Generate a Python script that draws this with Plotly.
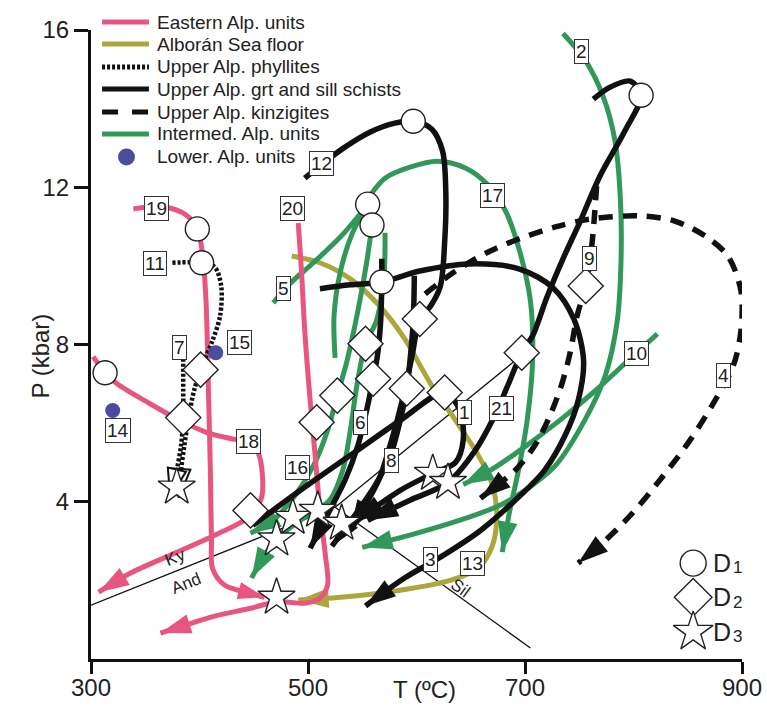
import plotly.graph_objects as go

PINK = "#E8567F"
OLIVE = "#ABA73C"
GREEN = "#32985A"
BLACK = "#111111"
NAVY = "#4B4C9C"

# ---------------- P-T paths (T in ºC, P in kbar) ----------------
# Eastern Alp. units
p19_T = [339, 368, 388, 398, 403, 406, 408, 410, 411, 412, 423, 442, 460]
p19_P = [11.45, 11.50, 11.29, 10.94, 10.25, 9.11, 7.08, 4.80, 3.02, 2.31, 1.88, 1.70, 1.57]
p20_T = [491, 494, 497, 502, 507, 511, 516, 518, 511, 497, 479, 465, 447, 414, 387, 364]
p20_P = [11.09, 9.87, 8.35, 6.57, 5.05, 3.78, 2.64, 1.88, 1.55, 1.42, 1.45, 1.42, 1.29, 1.09, 0.86, 0.66]
p18_T = [302, 313, 324, 354, 382, 407, 428, 445, 454, 458, 457, 445, 414, 373, 336, 307]
p18_P = [7.69, 7.28, 7.00, 6.50, 6.07, 5.76, 5.61, 5.51, 5.25, 4.67, 4.09, 3.60, 3.15, 2.64, 2.18, 1.70]

# Alborán Sea floor
p13_T = [485, 511, 539, 566, 589, 613, 636, 657, 670, 674, 670, 657, 631, 585, 530, 491]
p13_P = [10.25, 10.08, 9.67, 8.98, 8.15, 7.00, 6.07, 5.18, 4.42, 3.65, 2.89, 2.31, 2.00, 1.75, 1.57, 1.50]

# Upper Alp. phyllites
p11_T = [375, 402, 414, 420, 419, 412, 405, 401, 395, 390, 386, 383, 381]
p11_P = [10.08, 10.08, 9.97, 9.49, 8.73, 8.10, 7.64, 7.36, 6.83, 6.14, 5.43, 4.80, 4.11]
p7_T = [385, 385, 385, 383, 379, 373]
p7_P = [7.64, 6.83, 6.14, 5.43, 4.80, 4.11]

# Upper Alp. grt and sill schists
p12_T = [497, 513, 534, 557, 580, 597, 614, 624, 627, 626, 622, 613, 603, 596, 588, 577, 565, 550, 539]
p12_P = [12.23, 12.59, 13.02, 13.40, 13.63, 13.68, 13.48, 12.92, 11.90, 10.63, 9.49, 8.98, 8.65, 7.72, 6.70, 5.56, 4.54, 3.78, 3.27]
p8_T = [598, 597, 594, 591, 585, 576, 562, 543, 522]
p8_P = [9.75, 8.60, 7.59, 6.88, 6.07, 5.18, 4.42, 3.65, 2.87]
p6_T = [568, 568, 567, 564, 560, 554, 546, 534, 520, 502]
p6_P = [10.18, 9.59, 8.60, 7.72, 7.13, 6.32, 5.43, 4.54, 3.78, 2.82]
p3_T = [511, 539, 568, 603, 649, 695, 726, 745, 754, 749, 737, 718, 691, 659, 622, 589, 553]
p3_P = [9.42, 9.52, 9.59, 9.87, 10.05, 9.92, 9.44, 8.65, 7.59, 6.57, 5.69, 4.80, 4.04, 3.27, 2.59, 2.06, 1.35]
p1_T = [449, 493, 539, 585, 626, 640, 643, 636, 615, 585, 543]
p1_P = [3.40, 4.29, 5.18, 6.07, 6.78, 6.32, 5.56, 5.00, 4.72, 4.29, 3.48]
p21_T = [763, 778, 797, 807, 792, 769, 751, 735, 720, 707, 697, 684, 672, 654, 629, 594, 555]
p21_P = [14.24, 14.54, 14.70, 14.34, 13.43, 12.28, 11.14, 10.18, 9.19, 8.22, 7.79, 6.95, 6.19, 5.30, 4.49, 4.04, 3.53]

# Upper Alp. kinzigites
p4_T = [608, 636, 668, 695, 728, 760, 806, 838, 866, 887, 899, 899, 892, 875, 852, 824, 797, 769, 749]
p4_P = [9.29, 9.87, 10.38, 10.69, 10.99, 11.19, 11.27, 11.14, 10.76, 10.25, 9.37, 8.35, 7.46, 6.57, 5.56, 4.54, 3.65, 2.89, 2.44]
p9_T = [766, 764, 761, 756, 748, 742, 734, 723, 709, 691, 672, 659]
p9_P = [12.03, 11.27, 10.38, 9.49, 8.73, 7.84, 7.00, 6.19, 5.43, 4.80, 4.37, 4.09]

# Intermed. Alp. units
p2_T = [735, 755, 772, 783, 788, 788.5, 785, 774, 755, 728, 700, 677, 640, 594, 550]
p2_P = [15.91, 15.25, 14.31, 13.17, 11.65, 10.13, 8.60, 7.21, 6.07, 4.92, 4.29, 3.91, 3.53, 3.15, 2.84]
p10_T = [822, 797, 765, 732, 695, 668, 643]
p10_P = [8.27, 7.64, 6.83, 6.07, 5.30, 4.80, 4.44]
p17_T = [557, 571, 594, 619, 645, 665, 682, 695, 705, 707, 702, 694, 686, 679]
p17_P = [11.78, 12.23, 12.51, 12.66, 12.49, 12.08, 11.40, 10.38, 9.11, 7.59, 6.07, 4.80, 3.78, 2.72]
p5_T = [468, 483, 505, 530, 548, 555]
p5_P = [9.06, 9.54, 10.08, 10.74, 11.32, 11.57]
pa_T = [555, 541, 530, 524, 525]
pa_P = [11.57, 10.84, 9.87, 8.73, 7.66]
p16_T = [559, 554, 546, 536, 527, 518, 505, 488, 468, 447]
p16_P = [11.04, 10.08, 8.86, 7.59, 6.70, 5.81, 4.92, 4.16, 3.53, 3.20]
pc_T = [571, 570, 563, 553, 545, 539, 532, 520, 493, 471, 458, 448]
pc_P = [10.84, 9.75, 8.60, 8.02, 6.95, 5.81, 4.80, 4.04, 3.53, 3.05, 2.56, 2.06]

# Lower Alp. units (points)
low_T = [320, 415]
low_P = [6.32, 7.79]

# Aluminosilicate reactions
kyand_T, kyand_P = [300, 525], [1.37, 3.86]
kysil_T, kysil_P = [525, 694], [3.86, 7.66]
andsil_T, andsil_P = [525, 705], [3.86, 0.28]

# Deformation stage symbols
d1_T = [313, 398, 402, 555, 559, 568, 597, 807]
d1_P = [7.28, 10.94, 10.08, 11.57, 11.04, 9.59, 13.68, 14.34]
d2_T = [385, 401, 447, 508, 527, 553, 560, 591, 603, 626, 697, 756]
d2_P = [6.14, 7.36, 3.78, 6.02, 6.70, 8.02, 7.13, 6.88, 8.65, 6.78, 7.79, 9.49]
d3_T = [379, 486, 509, 531, 471, 471, 615, 629]
d3_P = [4.37, 3.60, 3.78, 3.45, 3.05, 1.57, 4.72, 4.49]

# Path labels
lab_text = ["19", "11", "7", "15", "14", "18", "20", "5", "12", "2", "17", "9",
            "10", "4", "1", "21", "6", "8", "16", "3", "13"]
lab_T = [360, 359, 382, 437, 325, 445, 486, 477, 512, 752, 670, 759,
         803, 883, 644, 678, 548, 577, 490, 613, 652]
lab_P = [11.45, 10.05, 7.92, 8.05, 5.81, 5.53, 11.47, 9.42, 12.61, 15.46, 11.78, 10.20,
         7.77, 7.21, 6.27, 6.37, 6.02, 5.05, 4.87, 2.54, 2.44]

# Axis ticks
x_ticks = [300, 500, 700, 900]
y_ticks = [4, 8, 12, 16]

legend_names = ["Eastern Alp. units", "Alborán Sea floor", "Upper Alp. phyllites",
                "Upper Alp. grt and sill schists", "Upper Alp. kinzigites",
                "Intermed. Alp. units", "Lower. Alp. units"]

FONT = "Liberation Sans, Arial, sans-serif"
TXT = "#222222"
fig = go.Figure()


def path(T, P, color, width=5.0, dash="solid", head=0, fill=None, edge=None, edge_w=0.0):
    n = len(T)
    sizes = [0] * (n - 1) + [head]
    fig.add_trace(go.Scatter(
        x=T, y=P, mode="lines+markers" if head else "lines",
        line=dict(color=color, width=width, dash=dash, shape="spline", smoothing=0.9),
        marker=dict(symbol="arrow", size=sizes, angleref="previous", opacity=1,
                    color=fill or color, line=dict(color=edge or color, width=edge_w)),
        hoverinfo="skip", showlegend=False))


# thin reaction lines
for tt, pp in [(kyand_T, kyand_P), (kysil_T, kysil_P), (andsil_T, andsil_P)]:
    fig.add_trace(go.Scatter(x=tt, y=pp, mode="lines", line=dict(color=BLACK, width=1.3),
                             hoverinfo="skip", showlegend=False))

H = 32
# olive
path(p13_T, p13_P, OLIVE, head=H)
# green
path(p2_T, p2_P, GREEN, head=H)
path(p10_T, p10_P, GREEN, head=H)
path(p17_T, p17_P, GREEN, head=H)
path(p5_T, p5_P, GREEN)
path(pa_T, pa_P, GREEN)
path(p16_T, p16_P, GREEN, head=H)
path(pc_T, pc_P, GREEN, head=H)
# pink
path(p19_T, p19_P, PINK, head=28)
path(p20_T, p20_P, PINK, head=H)
path(p18_T, p18_P, PINK, head=H)
# black solid
for tt, pp in [(p3_T, p3_P), (p12_T, p12_P), (p8_T, p8_P), (p6_T, p6_P), (p1_T, p1_P), (p21_T, p21_P)]:
    path(tt, pp, BLACK, width=5.5, head=H)
# dashed
path(p4_T, p4_P, BLACK, width=5.5, dash="14px,10px", head=H)
path(p9_T, p9_P, BLACK, width=5.5, dash="14px,10px", head=H)
# dotted
path(p11_T, p11_P, BLACK, width=4.5, dash="3px,2px", head=30, fill="white", edge=BLACK, edge_w=2)
path(p7_T, p7_P, BLACK, width=4.5, dash="3px,2px", head=30, fill="white", edge=BLACK, edge_w=2)

# lower alp. points
fig.add_trace(go.Scatter(x=low_T, y=low_P, mode="markers",
                         marker=dict(color=NAVY, size=15), hoverinfo="skip", showlegend=False))

# deformation symbols
sym_line = dict(color="#222", width=1.4)
fig.add_trace(go.Scatter(x=d1_T, y=d1_P, mode="markers",
                         marker=dict(symbol="circle", size=24, color="white", line=sym_line),
                         hoverinfo="skip", showlegend=False))
fig.add_trace(go.Scatter(x=d2_T, y=d2_P, mode="markers",
                         marker=dict(symbol="diamond", size=27, color="white", line=sym_line),
                         hoverinfo="skip", showlegend=False))
fig.add_trace(go.Scatter(x=d3_T, y=d3_P, mode="markers",
                         marker=dict(symbol="star", size=28, color="white", line=sym_line),
                         hoverinfo="skip", showlegend=False))

# D legend (bottom right)
leg_T = [855, 855, 855]
leg_P = [2.44, 1.57, 0.69]
fig.add_trace(go.Scatter(x=leg_T, y=leg_P, mode="markers",
                         marker=dict(symbol=["circle", "diamond", "star"], size=[26, 29, 30], color="white",
                                     opacity=1, line=sym_line),
                         hoverinfo="skip", showlegend=False))
annotations = []
for i, s in enumerate(["1", "2", "3"]):
    annotations.append(dict(x=872, y=leg_P[i], xref="x", yref="y", text="D", showarrow=False,
                            xanchor="left", yanchor="middle", borderpad=0,
                            font=dict(size=25, family=FONT, color=TXT)))
    annotations.append(dict(x=891, y=leg_P[i] - 0.12, xref="x", yref="y", text=s, showarrow=False,
                            xanchor="left", yanchor="middle", borderpad=0,
                            font=dict(size=17, family=FONT, color=TXT)))

# x tick labels
for v in x_ticks:
    annotations.append(dict(x=v, y=-0.0455, xref="x", yref="paper", text=str(v), showarrow=False,
                            yanchor="middle", font=dict(size=24, family=FONT, color=TXT)))

# path labels
for t, x, y in zip(lab_text, lab_T, lab_P):
    annotations.append(dict(x=x, y=y, xref="x", yref="y", text=t, showarrow=False,
                            bgcolor="white", bordercolor="#333", borderwidth=1, borderpad=1,
                            font=dict(size=19, family=FONT, color=TXT)))

# reaction labels
for t, x, y, a in [("Ky", 377, 2.59, -22), ("And", 388, 1.93, -22), ("Sil", 641, 1.80, 36)]:
    annotations.append(dict(x=x, y=y, xref="x", yref="y", text=t, showarrow=False, textangle=a,
                            font=dict(size=17, family=FONT, color=TXT)))

# axis titles
annotations.append(dict(x=-0.101, y=0.482, xref="paper", yref="paper", text="P (kbar)", showarrow=False,
                        textangle=-90, font=dict(size=24, family=FONT, color=TXT)))
annotations.append(dict(x=0.513, y=-0.049, xref="paper", yref="paper", text="T (ºC)", showarrow=False,
                        yanchor="middle", font=dict(size=24, family=FONT, color=TXT)))

# custom legend (top left)
leg_y = [1.0127, 0.9777, 0.9412, 0.9062, 0.8696, 0.8347, 0.7981]
shapes = []
styles = [(PINK, "solid", 5), (OLIVE, "solid", 5), (BLACK, "3px,2px", 5), (BLACK, "solid", 5),
          (BLACK, "16px,14px", 5), (GREEN, "solid", 5)]
for (c, d, w), y in zip(styles, leg_y[:6]):
    shapes.append(dict(type="line", xref="paper", yref="paper", x0=0.017, x1=0.089, y0=y, y1=y,
                       line=dict(color=c, width=w, dash=d)))
shapes.append(dict(type="circle", xref="paper", yref="paper", x0=0.0415, x1=0.0675,
                   y0=leg_y[6] - 0.0135, y1=leg_y[6] + 0.0135, fillcolor=NAVY, line=dict(width=0)))
for name, y in zip(legend_names, leg_y):
    annotations.append(dict(x=0.098, y=y, xref="paper", yref="paper", text=name, showarrow=False,
                            xanchor="left", yanchor="middle", font=dict(size=19, family=FONT, color=TXT)))

fig.update_layout(
    width=767, height=706, margin=dict(l=91, r=25, t=30, b=47, autoexpand=False),
    plot_bgcolor="white", paper_bgcolor="white",
    showlegend=False, annotations=annotations, shapes=shapes,
    font=dict(family=FONT, color=TXT),
)
fig.update_xaxes(range=[300, 900], tickvals=x_ticks, showticklabels=False, ticks="outside", ticklen=12,
                 tickwidth=3, tickcolor=BLACK, showline=True, linewidth=3, linecolor=BLACK,
                 showgrid=False, zeroline=False, automargin=False)
fig.update_yaxes(range=[0, 16], tickvals=y_ticks, ticks="outside", ticklen=14,
                 tickwidth=3, tickcolor=BLACK, showline=True, linewidth=3, linecolor=BLACK,
                 showgrid=False, zeroline=False, automargin=False,
                 tickfont=dict(size=24, family=FONT, color=TXT))

fig.write_html("out.html")
